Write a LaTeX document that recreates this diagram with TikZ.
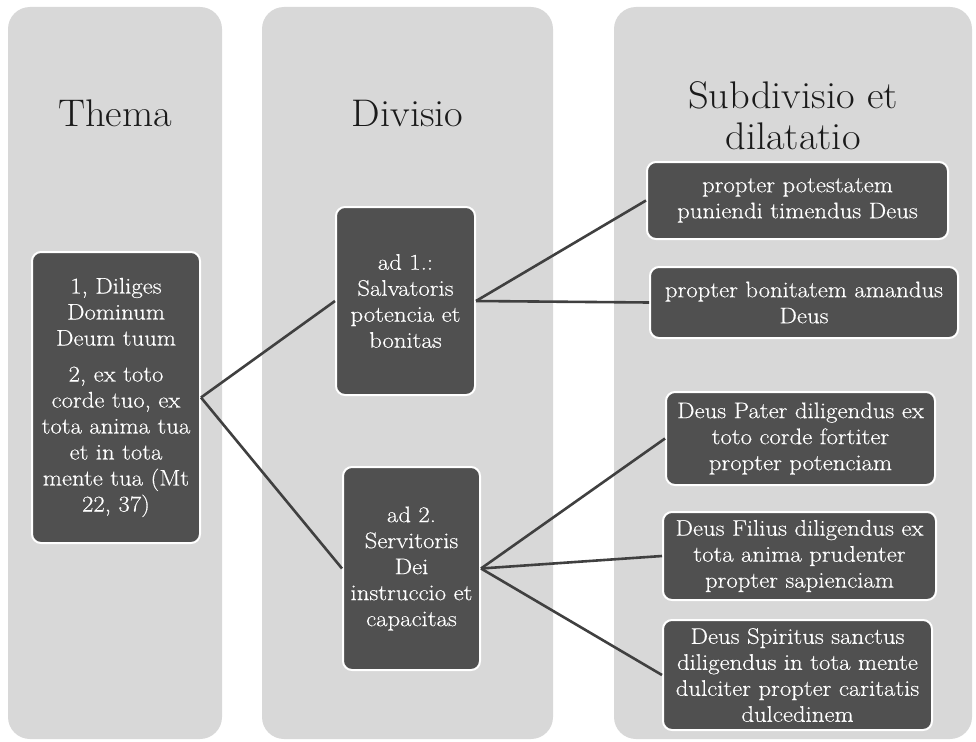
\documentclass[tikz,border=0pt]{standalone}
\usepackage{fontspec}
\newfontfamily\boxfont{Latin Modern Roman}[FakeStretch=1.1, FakeBold=0.4]
\newfontfamily\titlefont{Latin Modern Roman}[FakeStretch=1.05]
\definecolor{colgray}{HTML}{D8D8D8}
\definecolor{boxgray}{HTML}{505050}
\definecolor{linecol}{HTML}{404040}
\definecolor{titlecol}{HTML}{1A1A1A}
\begin{document}
\begin{tikzpicture}[x=1pt,y=-1pt,
  colbox/.style={fill=colgray, rounded corners=22pt, inner sep=0pt},
  darkbox/.style={fill=boxgray, draw=white, line width=2pt, rounded corners=9pt, inner sep=0pt, text=white, align=center, font=\boxfont\fontsize{22.5}{26}\selectfont},
  coltitle/.style={font=\titlefont\fontsize{38.5}{41}\selectfont, text=titlecol, align=center, inner sep=0pt},
  link/.style={draw=linecol, line width=2.6pt}]
\useasboundingbox (0,0) rectangle (976,741);
% columns
\node[colbox, minimum width=214pt, minimum height=732pt] (c1) at (115,373) {};
\node[colbox, minimum width=291pt, minimum height=732pt] (c2) at (407.5,373) {};
\node[colbox, minimum width=358pt, minimum height=732pt] (c3) at (793,373) {};
% titles
\node[coltitle, anchor=base] (h1) at (115,127) {Thema};
\node[coltitle, anchor=base] (h2) at (407.5,127) {Divisio};
\node[coltitle] (h3) at (793,116) {Subdivisio et\\dilatatio};
% boxes
\node[darkbox, minimum width=168pt, minimum height=291pt] (t) at (116,397.5)
  {1, Diliges\\Dominum\\Deum tuum\\[10pt]2, ex toto\\corde tuo, ex\\tota anima tua\\et in tota\\mente tua (Mt\\22, 37)};
\node[darkbox, minimum width=139pt, minimum height=188pt] (d1) at (405.5,301)
  {ad 1.:\\Salvatoris\\potencia et\\bonitas};
\node[darkbox, minimum width=137pt, minimum height=203pt] (d2) at (411.5,568.5)
  {ad 2.\\Servitoris\\Dei\\instruccio et\\capacitas};
\node[darkbox, minimum width=301pt, minimum height=77pt] (s1) at (797.5,200.5)
  {propter potestatem\\puniendi timendus Deus};
\node[darkbox, minimum width=308pt, minimum height=71pt] (s2) at (804,302.5)
  {propter bonitatem amandus\\Deus};
\node[darkbox, minimum width=269pt, minimum height=93pt] (s3) at (800.5,438.5)
  {Deus Pater diligendus ex\\toto corde fortiter\\propter potenciam};
\node[darkbox, minimum width=273pt, minimum height=88pt] (s4) at (799.5,556)
  {Deus Filius diligendus ex\\tota anima prudenter\\propter sapienciam};
\node[darkbox, minimum width=269pt, minimum height=110pt] (s5) at (797.5,675)
  {Deus Spiritus sanctus\\diligendus in tota mente\\dulciter propter caritatis\\dulcedinem};
% connectors
\draw[link] (t.east) -- (d1.west);
\draw[link] (t.east) -- (d2.west);
\draw[link] (d1.east) -- (s1.west);
\draw[link] (d1.east) -- (s2.west);
\draw[link] (d2.east) -- (s3.west);
\draw[link] (d2.east) -- (s4.west);
\draw[link] (d2.east) -- (s5.west);
\end{tikzpicture}
\end{document}
